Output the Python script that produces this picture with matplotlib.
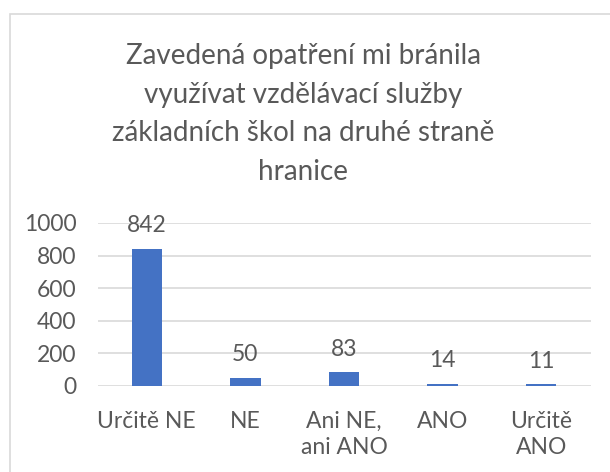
import matplotlib.pyplot as plt
from matplotlib.patches import Rectangle

categories = ['Určitě NE', 'NE', 'Ani NE,\nani ANO', 'ANO', 'Určitě\nANO']
values = [842, 50, 83, 14, 11]
title_lines = ['Zavedená opatření mi bránila', 'využívat vzdělávací služby',
               'základních škol na druhé straně', 'hranice']
yticks = [0, 200, 400, 600, 800, 1000]

text_color = '#595959'
plt.rcParams['font.family'] = ['Lato', 'DejaVu Sans']

fig = plt.figure(figsize=(6.1, 4.72), dpi=100)
ax = fig.add_axes([97.5 / 610, 86 / 472, 493 / 610, 163 / 472])

# rámeček grafu jako v Excelu
fig.patches.append(Rectangle((9.5 / 610, -0.5), 2, 1.5 - 13.5 / 472,
                             transform=fig.transFigure, fill=False,
                             edgecolor='#d9d9d9', linewidth=1.2))

x = list(range(len(categories)))
bars = ax.bar(x, values, width=0.31, color='#4472c4', zorder=3)
for b, v in zip(bars, values):
    ax.annotate(str(v), (b.get_x() + b.get_width() / 2, v),
                xytext=(0, 9), textcoords='offset points',
                ha='center', va='bottom', fontsize=16.5, color=text_color)

ax.set_xlim(-0.5, len(categories) - 0.5)
ax.set_ylim(0, 1000)
ax.set_yticks(yticks)
ax.set_xticks(x)
ax.set_xticklabels(categories, fontsize=16.5, color=text_color, linespacing=1.3)
ax.tick_params(axis='y', labelsize=16.5, labelcolor=text_color, length=0, pad=15)
ax.tick_params(axis='x', length=0, pad=18)
ax.grid(axis='y', color='#d9d9d9', linewidth=1.2, zorder=0)
for s in ax.spines.values():
    s.set_visible(False)

# nadpis po řádcích
for i, line in enumerate(title_lines):
    fig.text(0.497, 1 - (64 + i * 38.7) / 472, line, ha='center', va='baseline',
             fontsize=20, color=text_color)

plt.savefig('out.png', dpi=100)
plt.close()
